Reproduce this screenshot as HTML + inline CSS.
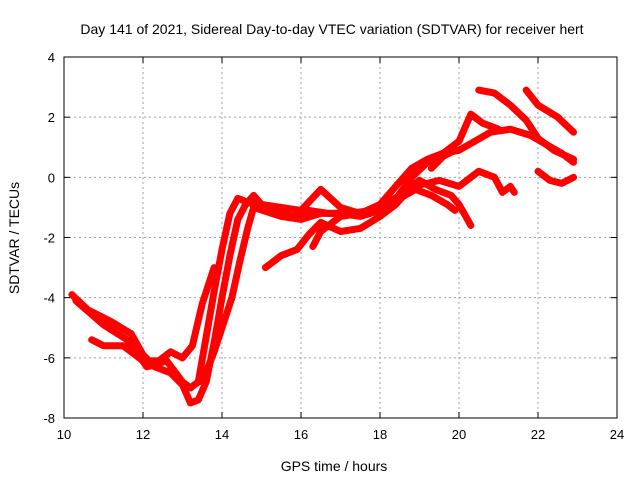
<!DOCTYPE html>
<html><head><meta charset="utf-8"><style>
body{margin:0;background:#fff;}
svg{display:block;font-family:"Liberation Sans",sans-serif;}
</style></head><body>
<svg id="chart" width="640" height="480" viewBox="0 0 640 480" xmlns="http://www.w3.org/2000/svg">
<text x="332" y="34" font-size="14" text-anchor="middle">Day 141 of 2021, Sidereal Day-to-day VTEC variation (SDTVAR) for receiver hert</text>
<text x="334" y="471" font-size="14" text-anchor="middle">GPS time / hours</text>
<text transform="translate(19,238) rotate(-90)" font-size="14" text-anchor="middle">SDTVAR / TECUs</text>
<g id="grid"></g><g id="series"></g><g id="axes"></g>
</svg>
<script>
const xTicks=[10,12,14,16,18,20,22,24];
const yTicks=[-8,-6,-4,-2,0,2,4];
const s1=[[10.2,-3.9],[10.6,-4.4],[11.2,-4.8],[11.7,-5.2],[12.0,-5.9],[12.3,-6.3],[12.7,-6.5],[13.0,-6.9],[13.2,-7.5],[13.4,-7.4],[13.6,-6.8],[13.8,-5.5],[14.0,-4.0],[14.2,-2.6],[14.4,-1.4],[14.6,-0.9],[14.8,-0.6],[15.0,-0.9],[15.5,-1.0],[16.0,-1.1],[16.5,-0.4],[17.0,-1.0],[17.5,-1.2],[18.0,-1.0],[18.5,-0.6],[19.0,-0.1],[19.4,-0.4],[19.8,-0.6],[20.0,-0.9],[20.3,-1.6]];
const s2=[[10.3,-4.1],[11.0,-4.9],[11.6,-5.4],[12.1,-6.3],[12.6,-6.1],[13.0,-6.8],[13.2,-7.0],[13.4,-6.8],[13.6,-5.3],[13.8,-3.8],[14.0,-2.4],[14.2,-1.2],[14.4,-0.7],[14.6,-0.8],[15.2,-1.1],[15.8,-1.3],[16.2,-1.1],[16.7,-1.2],[17.2,-1.2],[17.8,-1.1],[18.3,-0.9],[18.8,0.0],[19.2,0.5],[19.6,0.8],[20.0,1.2],[20.3,2.1],[20.6,1.8],[21.0,1.6]];
const s3=[[10.7,-5.4],[11.0,-5.6],[11.5,-5.6],[12.0,-6.1],[12.4,-6.1],[12.7,-5.8],[13.0,-6.0],[13.25,-5.6],[13.5,-4.2],[13.8,-3.0]];
const s4=[[13.5,-6.8],[13.8,-5.8],[14.0,-5.0],[14.25,-4.0],[14.45,-2.8],[14.65,-1.7],[14.8,-1.0],[15.5,-1.3],[16.0,-1.4],[16.5,-1.2],[17.0,-1.2],[17.5,-1.3],[18.0,-1.1],[18.5,-0.7],[18.9,-0.4],[19.3,-0.6],[19.7,-0.9],[19.9,-1.1]];
const s5=[[15.1,-3.0],[15.5,-2.6],[15.9,-2.4],[16.2,-1.9],[16.5,-1.5],[17.0,-1.8],[17.5,-1.7],[18.0,-1.3],[18.4,-0.9],[18.8,-0.3],[19.2,-0.2],[19.5,-0.1],[20.0,-0.3],[20.5,0.2],[20.9,0.0],[21.1,-0.5],[21.3,-0.3],[21.4,-0.5]];
const s6=[[16.3,-2.3],[16.5,-1.8],[17.0,-1.3],[17.5,-1.2],[18.0,-0.9],[18.4,-0.3],[18.8,0.3],[19.2,0.6],[19.6,0.8],[20.0,0.9],[20.4,1.2],[20.8,1.5],[21.3,1.6],[21.8,1.4],[22.2,1.1],[22.6,0.8],[22.9,0.5]];
const s7=[[20.5,2.9],[20.9,2.8],[21.3,2.4],[21.7,1.9],[22.0,1.3],[22.4,0.9],[22.9,0.6]];
const s8=[[21.7,2.9],[22.0,2.4],[22.5,2.0],[22.9,1.5]];
const s9=[[22.0,0.2],[22.3,-0.1],[22.6,-0.2],[22.9,0.0]];
const s10=[[19.3,0.3],[19.6,0.7],[19.9,0.9]];
const allSeries=[s1,s2,s3,s4,s5,s6,s7,s8,s9,s10];
const L=64,R=617,T=57,B=418,x0=10,x1=24,y0=-8,y1=4;
const X=h=>L+(h-x0)/(x1-x0)*(R-L);
const Y=v=>B-(v-y0)/(y1-y0)*(B-T);
const NS="http://www.w3.org/2000/svg";
function mk(tag,attrs,parent){const e=document.createElementNS(NS,tag);for(const k in attrs)e.setAttribute(k,attrs[k]);parent.appendChild(e);return e;}
const grid=document.getElementById('grid'),axes=document.getElementById('axes'),ser=document.getElementById('series');
xTicks.forEach(t=>{
  if(t>x0&&t<x1){const g=mk('line',{x1:X(t),x2:X(t),y1:T,y2:B,stroke:'#a0a0a0','stroke-dasharray':'2,3'},grid);
  
  }
  mk('line',{x1:X(t),x2:X(t),y1:B,y2:B-6,stroke:'#000'},axes);
  mk('line',{x1:X(t),x2:X(t),y1:T,y2:T+6,stroke:'#000'},axes);
  const tx=mk('text',{x:X(t),y:B+21,'font-size':13,'text-anchor':'middle'},axes);tx.textContent=t;
  
  
});
yTicks.forEach(t=>{
  if(t>y0&&t<y1){const g=mk('line',{x1:L,x2:R,y1:Y(t),y2:Y(t),stroke:'#a0a0a0','stroke-dasharray':'2,3'},grid);
  
  }
  mk('line',{x1:L,x2:L+6,y1:Y(t),y2:Y(t),stroke:'#000'},axes);
  mk('line',{x1:R,x2:R-6,y1:Y(t),y2:Y(t),stroke:'#000'},axes);
  const tx=mk('text',{x:L-9,y:Y(t)+5,'font-size':13,'text-anchor':'end'},axes);tx.textContent=t;
  
  
});
const fr=mk('rect',{x:L,y:T,width:R-L,height:B-T,fill:'none',stroke:'#000'},axes);


allSeries.forEach((s,i)=>{
  const p=mk('polyline',{points:s.map(d=>X(d[0])+','+Y(d[1])).join(' '),fill:'none',stroke:'#ff0000','stroke-width':7,'stroke-linejoin':'round','stroke-linecap':'round'},ser);
  
  
});
</script>
</body></html>
